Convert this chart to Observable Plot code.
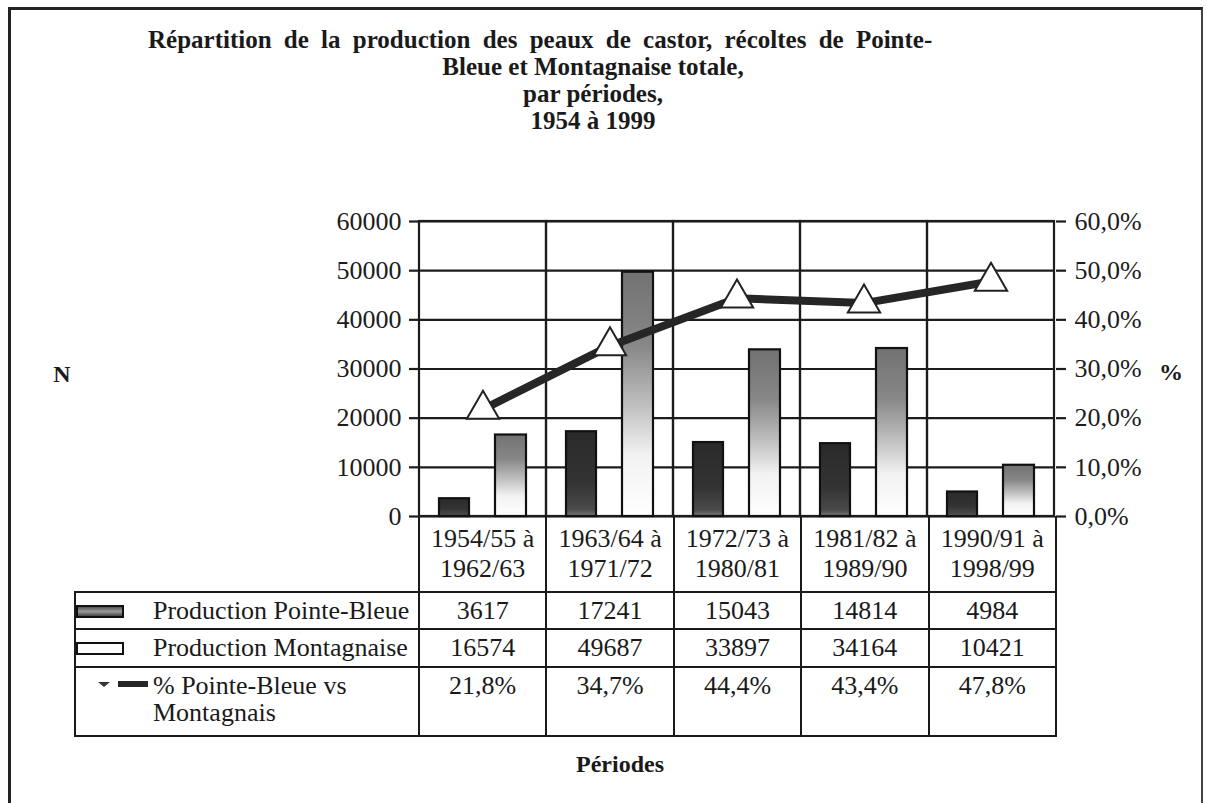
<!DOCTYPE html>
<html>
<head>
<meta charset="utf-8">
<script src="https://cdn.jsdelivr.net/npm/d3@7"></script>
<script src="https://cdn.jsdelivr.net/npm/@observablehq/plot@0.6"></script>
<style>
  html, body { margin: 0; padding: 0; background: #ffffff; }
  #wrap { position: relative; width: 1206px; height: 803px; overflow: hidden; font-family: "Liberation Serif", "Times New Roman", serif; color: #1a1a1a; }
  #wrap svg { position: absolute; left: 0; top: 0; }
  .frame { position: absolute; left: 8px; top: 7px; width: 1195px; height: 810px; border-left: 3px solid #222; border-top: 3px solid #222; border-right: 2px solid #444; box-sizing: border-box; }
  .t { position: absolute; white-space: nowrap; font-weight: bold; font-size: 25px; line-height: 27px; }
  .tc { transform: translateX(-50%); }
  table.dt { position: absolute; left: 74px; top: 516px; border-collapse: collapse; table-layout: fixed; width: 981px; font-size: 26px; }
  table.dt td { border: 2px solid #1a1a1a; padding: 0; text-align: center; vertical-align: middle; overflow: visible; white-space: nowrap; }
  table.dt tr.hdr td { border-top: none; line-height: 30px; }
  table.dt tr.hdr td.blank { border-left: none; border-top: none; }
  table.dt td.lab { text-align: left; position: relative; padding-left: 77px; }
  table.dt tr.pct td { vertical-align: top; line-height: 27px; padding-top: 4px; }
  .key { position: absolute; left: 22px; }
</style>
</head>
<body>
<div id="wrap"></div>
<script>
// ---------- data ----------
const periods = ["1954/55 à 1962/63", "1963/64 à 1971/72", "1972/73 à 1980/81", "1981/82 à 1989/90", "1990/91 à 1998/99"];
const periodLine1 = ["1954/55 à", "1963/64 à", "1972/73 à", "1981/82 à", "1990/91 à"];
const periodLine2 = ["1962/63", "1971/72", "1980/81", "1989/90", "1998/99"];
const productionPointeBleue = [3617, 17241, 15043, 14814, 4984];
const productionMontagnaise = [16574, 49687, 33897, 34164, 10421];
const pctPointeBleue = [21.8, 34.7, 44.4, 43.4, 47.8];
const leftTicks = [0, 10000, 20000, 30000, 40000, 50000, 60000];
const rightTickLabels = ["0,0%", "10,0%", "20,0%", "30,0%", "40,0%", "50,0%", "60,0%"];
const seriesNames = ["Production Pointe-Bleue", "Production Montagnaise", "% Pointe-Bleue vs Montagnais"];
const titleLines = ["Répartition de la production des peaux de castor, récoltes de Pointe-", "Bleue et Montagnaise totale,", "par périodes,", "1954 à 1999"];

const rows = periods.map((p, i) => ({
  period: p, pb: productionPointeBleue[i], m: productionMontagnaise[i], pct: pctPointeBleue[i]
}));
// right axis: 60,0% corresponds to 60000 on the left axis
const pctToY = v => v * 1000;

// ---------- chart ----------
const ink = "#1c1c1c";
const chart = Plot.plot({
  width: 1206,
  height: 803,
  marginTop: 221,
  marginBottom: 287,
  marginLeft: 418,
  marginRight: 151,
  style: { background: "transparent", fontFamily: "Liberation Serif, Times New Roman, serif", color: ink },
  x: { type: "band", domain: periods, padding: 0, axis: null },
  y: { domain: [0, 60000], axis: null },
  marks: [
    Plot.ruleY(leftTicks, { stroke: ink, strokeWidth: 2.2 }),
    Plot.barY(rows, { x: "period", y1: 0, y2: 60000, fill: "none", stroke: ink, strokeWidth: 2.2 }),
    Plot.barY(rows, { x: "period", y: "pb", insetLeft: 20, insetRight: 77, fill: "url(#gradPB)", stroke: "#111", strokeWidth: 2.2 }),
    Plot.barY(rows, { x: "period", y: "m", insetLeft: 76, insetRight: 20, fill: "url(#gradM)", stroke: "#111", strokeWidth: 2.2 }),
    Plot.lineY(rows, { x: "period", y: d => pctToY(d.pct), stroke: "#262626", strokeWidth: 8 }),
    Plot.dot(rows, { x: "period", y: d => pctToY(d.pct), symbol: "triangle", r: 12, fill: "white", stroke: "#222", strokeWidth: 2 }),
    Plot.axisY({ anchor: "left", ticks: leftTicks, tickSize: 9, tickPadding: 8, tickFormat: d => String(d), label: null, fontSize: 26, strokeWidth: 2.2 }),
    Plot.axisY({ anchor: "right", ticks: leftTicks, tickSize: 10, tickPadding: 9, tickFormat: d => rightTickLabels[leftTicks.indexOf(d)], label: null, fontSize: 26, strokeWidth: 2.2 })
  ]
});

// gradients for bars
const defs = d3.select(chart).insert("defs", ":first-child");
const gPB = defs.append("linearGradient").attr("id", "gradPB").attr("x1", 0).attr("y1", 0).attr("x2", 0).attr("y2", 1);
[[0, "#2a2a2a"], [0.6, "#333333"], [0.92, "#4a4a4a"], [1, "#777777"]].forEach(([o, c]) => gPB.append("stop").attr("offset", o).attr("stop-color", c));
const gM = defs.append("linearGradient").attr("id", "gradM").attr("x1", 0).attr("y1", 0).attr("x2", 0).attr("y2", 1);
[[0, "#727272"], [0.3, "#878787"], [0.55, "#c0c0c0"], [0.75, "#f2f2f2"], [1, "#ffffff"]].forEach(([o, c]) => gM.append("stop").attr("offset", o).attr("stop-color", c));

const wrap = document.getElementById("wrap");
wrap.appendChild(chart);

// frame
const frame = document.createElement("div");
frame.className = "frame";
wrap.appendChild(frame);

// title & labels
function addText(txt, x, y, centered, extra) {
  const d = document.createElement("div");
  d.className = "t" + (centered ? " tc" : "");
  d.textContent = txt;
  d.style.left = x + "px";
  d.style.top = y + "px";
  if (extra) Object.assign(d.style, extra);
  wrap.appendChild(d);
}
addText(titleLines[0], 148, 26, false, { wordSpacing: "6px" });
addText(titleLines[1], 593, 53, true);
addText(titleLines[2], 593, 80, true);
addText(titleLines[3], 593, 107, true);
addText("N", 62, 361, true, { fontSize: "24px" });
addText("%", 1171, 359, true, { fontSize: "24px" });
addText("Périodes", 620, 751, true, { fontSize: "24px" });

// data table
const keyPB = '<svg class="key" width="48" height="14" style="top:12px"><defs><linearGradient id="kPB" x1="0" y1="0" x2="0" y2="1"><stop offset="0" stop-color="#444"/><stop offset="0.5" stop-color="#9a9a9a"/><stop offset="1" stop-color="#333"/></linearGradient></defs><rect x="1" y="1" width="46" height="11" fill="url(#kPB)" stroke="#111" stroke-width="2"/></svg>';
const keyM = '<svg class="key" width="48" height="14" style="top:12px"><rect x="1" y="1" width="46" height="11" fill="white" stroke="#111" stroke-width="2"/></svg>';
const keyPct = '<svg class="key" width="56" height="14" style="top:10px;left:20px"><polygon points="2,4 14,4 8,9" fill="#333"/><line x1="22" y1="6" x2="52" y2="6" stroke="#262626" stroke-width="6"/></svg>';

let html = '<table class="dt"><colgroup><col style="width:344px">' + periods.map(() => '<col style="width:127.4px">').join("") + '</colgroup>';
html += '<tr class="hdr" style="height:76px"><td class="blank"></td>' + periods.map((p, i) => `<td>${periodLine1[i]}<br>${periodLine2[i]}</td>`).join("") + '</tr>';
html += `<tr style="height:37px"><td class="lab">${keyPB}${seriesNames[0]}</td>` + productionPointeBleue.map(v => `<td>${v}</td>`).join("") + '</tr>';
html += `<tr style="height:38px"><td class="lab">${keyM}${seriesNames[1]}</td>` + productionMontagnaise.map(v => `<td>${v}</td>`).join("") + '</tr>';
html += `<tr class="pct" style="height:69px"><td class="lab">${keyPct}% Pointe-Bleue vs<br>Montagnais</td>` + pctPointeBleue.map(v => `<td>${v.toFixed(1).replace(".", ",")}%</td>`).join("") + '</tr>';
html += '</table>';
wrap.insertAdjacentHTML("beforeend", html);
</script>
</body>
</html>
